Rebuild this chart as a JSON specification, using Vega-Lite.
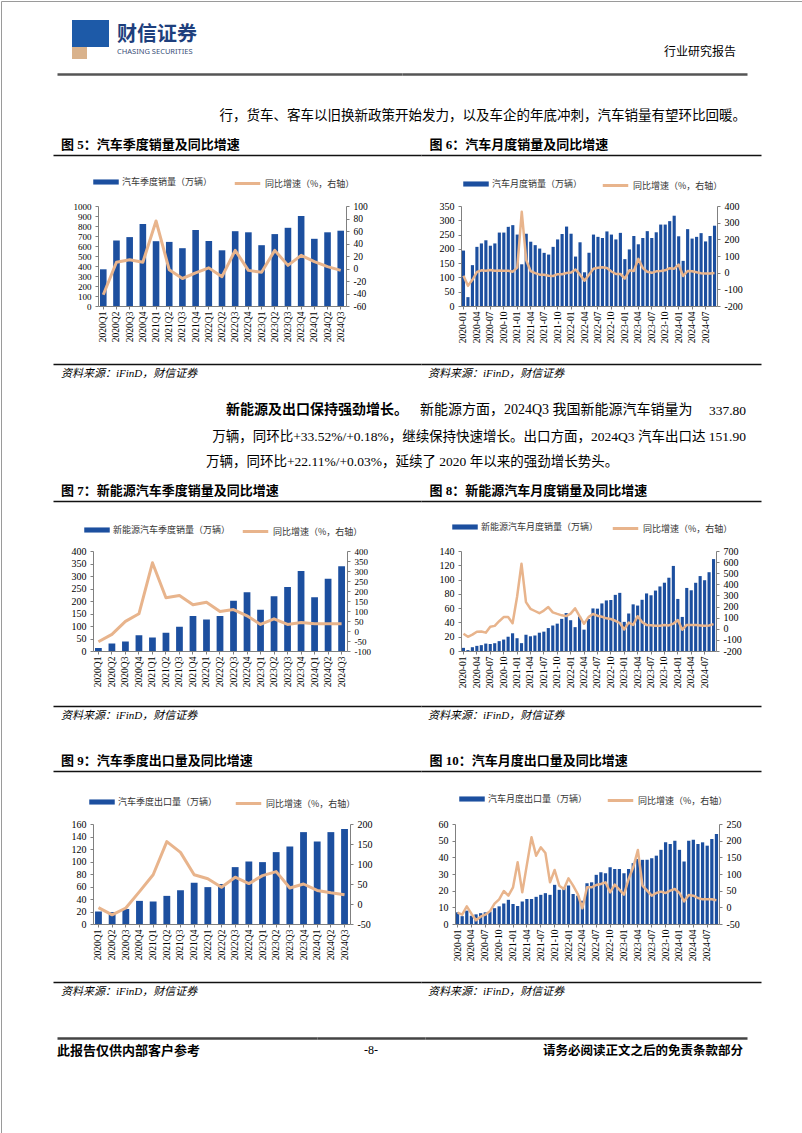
{
"$schema":"https://vega.github.io/schema/vega-lite/v6.json",
"background":"#ffffff",
"padding":0,
"bounds":"flush",
"spacing":0,
"resolve":{"scale":{"fill":"independent","stroke":"independent"},"legend":{"fill":"independent","stroke":"independent"}},
"config":{
 "view":{"stroke":null},
 "concat":{"spacing":0},
 "axis":{"grid":false,"labelFont":"Liberation Serif","labelColor":"#000000","domainColor":"#808080","tickColor":"#808080"},
 "axisX":{"labelAngle":270,"labelFontSize":9.5,"tickSize":3,"labelPadding":2},
 "axisY":{"labelFontSize":10,"tickSize":3,"labelPadding":4,"labelOverlap":false},
 "legend":{"orient":"none","symbolSize":650,"labelFont":"Noto Sans CJK SC","labelFontSize":9,"labelColor":"#333333","labelOffset":3,"padding":0},
 "title":{"font":"Liberation Serif, Noto Sans CJK SC","color":"#000000","frame":"group","fontWeight":"normal","anchor":"start","offset":0}
},
"datasets":{
 "q5":[{"period":"2020Q1","sales":367,"yoy":-42},{"period":"2020Q2","sales":655,"yoy":10},{"period":"2020Q3","sales":689,"yoy":14},{"period":"2020Q4","sales":820,"yoy":10},{"period":"2021Q1","sales":648,"yoy":76},{"period":"2021Q2","sales":641,"yoy":-2},{"period":"2021Q3","sales":578,"yoy":-16},{"period":"2021Q4","sales":760,"yoy":-7},{"period":"2022Q1","sales":650,"yoy":1},{"period":"2022Q2","sales":557,"yoy":-13},{"period":"2022Q3","sales":748,"yoy":29},{"period":"2022Q4","sales":737,"yoy":-3},{"period":"2023Q1","sales":608,"yoy":-6},{"period":"2023Q2","sales":719,"yoy":29},{"period":"2023Q3","sales":782,"yoy":5},{"period":"2023Q4","sales":900,"yoy":21},{"period":"2024Q1","sales":672,"yoy":11},{"period":"2024Q2","sales":737,"yoy":3},{"period":"2024Q3","sales":753,"yoy":-3}],
 "q7":[{"period":"2020Q1","sales":12,"yoy":-54},{"period":"2020Q2","sales":30,"yoy":-17},{"period":"2020Q3","sales":38,"yoy":48},{"period":"2020Q4","sales":63,"yoy":86},{"period":"2021Q1","sales":54,"yoy":341},{"period":"2021Q2","sales":73,"yoy":166},{"period":"2021Q3","sales":97,"yoy":178},{"period":"2021Q4","sales":140,"yoy":131},{"period":"2022Q1","sales":126,"yoy":144},{"period":"2022Q2","sales":140,"yoy":97},{"period":"2022Q3","sales":201,"yoy":107},{"period":"2022Q4","sales":235,"yoy":76},{"period":"2023Q1","sales":165,"yoy":33},{"period":"2023Q2","sales":219,"yoy":61},{"period":"2023Q3","sales":256,"yoy":33},{"period":"2023Q4","sales":320,"yoy":42},{"period":"2024Q1","sales":215,"yoy":36},{"period":"2024Q2","sales":289,"yoy":36},{"period":"2024Q3","sales":339,"yoy":36}],
 "q9":[{"period":"2020Q1","sales":20,"yoy":-9},{"period":"2020Q2","sales":19,"yoy":-27},{"period":"2020Q3","sales":24,"yoy":-10},{"period":"2020Q4","sales":37,"yoy":31},{"period":"2021Q1","sales":36,"yoy":73},{"period":"2021Q2","sales":45,"yoy":156},{"period":"2021Q3","sales":54,"yoy":129},{"period":"2021Q4","sales":66,"yoy":73},{"period":"2022Q1","sales":59,"yoy":63},{"period":"2022Q2","sales":64,"yoy":42},{"period":"2022Q3","sales":91,"yoy":67},{"period":"2022Q4","sales":100,"yoy":51},{"period":"2023Q1","sales":99,"yoy":71},{"period":"2023Q2","sales":115,"yoy":81},{"period":"2023Q3","sales":124,"yoy":40},{"period":"2023Q4","sales":147,"yoy":50},{"period":"2024Q1","sales":132,"yoy":34},{"period":"2024Q2","sales":147,"yoy":28},{"period":"2024Q3","sales":152,"yoy":23}],
 "m6":[{"period":"2020-01","sales":194,"yoy":-18},{"period":"2020-02","sales":31,"yoy":-79},{"period":"2020-03","sales":143,"yoy":-43},{"period":"2020-04","sales":207,"yoy":4},{"period":"2020-05","sales":219,"yoy":14},{"period":"2020-06","sales":230,"yoy":12},{"period":"2020-07","sales":211,"yoy":16},{"period":"2020-08","sales":219,"yoy":12},{"period":"2020-09","sales":257,"yoy":13},{"period":"2020-10","sales":257,"yoy":12},{"period":"2020-11","sales":277,"yoy":11},{"period":"2020-12","sales":283,"yoy":6},
  {"period":"2021-01","sales":250,"yoy":30},{"period":"2021-02","sales":146,"yoy":365},{"period":"2021-03","sales":253,"yoy":75},{"period":"2021-04","sales":225,"yoy":9},{"period":"2021-05","sales":213,"yoy":-3},{"period":"2021-06","sales":201,"yoy":-12},{"period":"2021-07","sales":186,"yoy":-12},{"period":"2021-08","sales":180,"yoy":-18},{"period":"2021-09","sales":207,"yoy":-20},{"period":"2021-10","sales":233,"yoy":-9},{"period":"2021-11","sales":252,"yoy":-9},{"period":"2021-12","sales":278,"yoy":-2},
  {"period":"2022-01","sales":253,"yoy":1},{"period":"2022-02","sales":173,"yoy":19},{"period":"2022-03","sales":223,"yoy":-12},{"period":"2022-04","sales":118,"yoy":-48},{"period":"2022-05","sales":186,"yoy":-13},{"period":"2022-06","sales":250,"yoy":24},{"period":"2022-07","sales":242,"yoy":30},{"period":"2022-08","sales":238,"yoy":32},{"period":"2022-09","sales":261,"yoy":28},{"period":"2022-10","sales":250,"yoy":7},{"period":"2022-11","sales":233,"yoy":-8},{"period":"2022-12","sales":256,"yoy":-8},
  {"period":"2023-01","sales":164,"yoy":-35},{"period":"2023-02","sales":198,"yoy":14},{"period":"2023-03","sales":245,"yoy":10},{"period":"2023-04","sales":216,"yoy":83},{"period":"2023-05","sales":238,"yoy":28},{"period":"2023-06","sales":262,"yoy":5},{"period":"2023-07","sales":238,"yoy":-1},{"period":"2023-08","sales":258,"yoy":8},{"period":"2023-09","sales":285,"yoy":10},{"period":"2023-10","sales":285,"yoy":14},{"period":"2023-11","sales":297,"yoy":27},{"period":"2023-12","sales":316,"yoy":24},
  {"period":"2024-01","sales":244,"yoy":48},{"period":"2024-02","sales":158,"yoy":-20},{"period":"2024-03","sales":269,"yoy":10},{"period":"2024-04","sales":236,"yoy":9},{"period":"2024-05","sales":242,"yoy":2},{"period":"2024-06","sales":255,"yoy":-3},{"period":"2024-07","sales":226,"yoy":-5},{"period":"2024-08","sales":245,"yoy":-5},{"period":"2024-09","sales":281,"yoy":-2}],
 "m8":[{"period":"2020-01","sales":4.4,"yoy":-45},{"period":"2020-02","sales":1.3,"yoy":-72},{"period":"2020-03","sales":5.3,"yoy":-53},{"period":"2020-04","sales":7.2,"yoy":-27},{"period":"2020-05","sales":8.2,"yoy":-24},{"period":"2020-06","sales":10.4,"yoy":-35},{"period":"2020-07","sales":9.8,"yoy":19},{"period":"2020-08","sales":10.9,"yoy":26},{"period":"2020-09","sales":13.8,"yoy":68},{"period":"2020-10","sales":16.0,"yoy":105},{"period":"2020-11","sales":20.0,"yoy":105},{"period":"2020-12","sales":24.8,"yoy":50},
  {"period":"2021-01","sales":17.9,"yoy":286},{"period":"2021-02","sales":11.0,"yoy":585},{"period":"2021-03","sales":22.6,"yoy":240},{"period":"2021-04","sales":20.6,"yoy":180},{"period":"2021-05","sales":21.7,"yoy":160},{"period":"2021-06","sales":25.6,"yoy":140},{"period":"2021-07","sales":27.1,"yoy":164},{"period":"2021-08","sales":32.1,"yoy":195},{"period":"2021-09","sales":35.7,"yoy":148},{"period":"2021-10","sales":38.3,"yoy":134},{"period":"2021-11","sales":45.0,"yoy":121},{"period":"2021-12","sales":53.1,"yoy":114},
  {"period":"2022-01","sales":43.1,"yoy":136},{"period":"2022-02","sales":33.4,"yoy":184},{"period":"2022-03","sales":48.4,"yoy":114},{"period":"2022-04","sales":29.9,"yoy":45},{"period":"2022-05","sales":44.7,"yoy":105},{"period":"2022-06","sales":59.6,"yoy":133},{"period":"2022-07","sales":59.3,"yoy":118},{"period":"2022-08","sales":66.6,"yoy":108},{"period":"2022-09","sales":70.8,"yoy":94},{"period":"2022-10","sales":71.4,"yoy":88},{"period":"2022-11","sales":78.6,"yoy":72},{"period":"2022-12","sales":81.4,"yoy":52},
  {"period":"2023-01","sales":40.8,"yoy":-6},{"period":"2023-02","sales":52.5,"yoy":56},{"period":"2023-03","sales":65.3,"yoy":35},{"period":"2023-04","sales":63.6,"yoy":113},{"period":"2023-05","sales":71.7,"yoy":60},{"period":"2023-06","sales":80.6,"yoy":35},{"period":"2023-07","sales":78.0,"yoy":32},{"period":"2023-08","sales":84.6,"yoy":27},{"period":"2023-09","sales":90.4,"yoy":28},{"period":"2023-10","sales":95.6,"yoy":34},{"period":"2023-11","sales":102.6,"yoy":30},{"period":"2023-12","sales":119.1,"yoy":46},
  {"period":"2024-01","sales":72.9,"yoy":79},{"period":"2024-02","sales":47.7,"yoy":-9},{"period":"2024-03","sales":88.3,"yoy":35},{"period":"2024-04","sales":85.0,"yoy":34},{"period":"2024-05","sales":95.5,"yoy":33},{"period":"2024-06","sales":104.9,"yoy":30},{"period":"2024-07","sales":99.1,"yoy":27},{"period":"2024-08","sales":110.3,"yoy":30},{"period":"2024-09","sales":128.7,"yoy":42}],
 "m10":[{"period":"2020-01","sales":7.0,"yoy":-16},{"period":"2020-02","sales":4.7,"yoy":-22},{"period":"2020-03","sales":8.0,"yoy":3},{"period":"2020-04","sales":5.0,"yoy":-19},{"period":"2020-05","sales":5.8,"yoy":-39},{"period":"2020-06","sales":6.5,"yoy":-28},{"period":"2020-07","sales":7.0,"yoy":-22},{"period":"2020-08","sales":7.5,"yoy":-12},{"period":"2020-09","sales":9.5,"yoy":11},{"period":"2020-10","sales":10.6,"yoy":24},{"period":"2020-11","sales":12.3,"yoy":49},{"period":"2020-12","sales":14.5,"yoy":35},
  {"period":"2021-01","sales":12.0,"yoy":60},{"period":"2021-02","sales":10.8,"yoy":135},{"period":"2021-03","sales":13.5,"yoy":45},{"period":"2021-04","sales":15.0,"yoy":128},{"period":"2021-05","sales":15.0,"yoy":210},{"period":"2021-06","sales":16.3,"yoy":155},{"period":"2021-07","sales":17.5,"yoy":180},{"period":"2021-08","sales":18.5,"yoy":163},{"period":"2021-09","sales":17.5,"yoy":75},{"period":"2021-10","sales":23.5,"yoy":112},{"period":"2021-11","sales":20.5,"yoy":65},{"period":"2021-12","sales":21.5,"yoy":55},
  {"period":"2022-01","sales":23.1,"yoy":87},{"period":"2022-02","sales":18.0,"yoy":65},{"period":"2022-03","sales":17.0,"yoy":40},{"period":"2022-04","sales":14.0,"yoy":-3},{"period":"2022-05","sales":24.5,"yoy":60},{"period":"2022-06","sales":25.0,"yoy":60},{"period":"2022-07","sales":29.5,"yoy":67},{"period":"2022-08","sales":31.0,"yoy":70},{"period":"2022-09","sales":30.5,"yoy":75},{"period":"2022-10","sales":34.0,"yoy":45},{"period":"2022-11","sales":33.0,"yoy":68},{"period":"2022-12","sales":33.0,"yoy":53},
  {"period":"2023-01","sales":30.5,"yoy":38},{"period":"2023-02","sales":33.0,"yoy":85},{"period":"2023-03","sales":36.5,"yoy":120},{"period":"2023-04","sales":39.0,"yoy":172},{"period":"2023-05","sales":38.5,"yoy":65},{"period":"2023-06","sales":38.5,"yoy":50},{"period":"2023-07","sales":39.5,"yoy":35},{"period":"2023-08","sales":41.0,"yoy":43},{"period":"2023-09","sales":44.5,"yoy":47},{"period":"2023-10","sales":49.0,"yoy":43},{"period":"2023-11","sales":48.0,"yoy":50},{"period":"2023-12","sales":50.0,"yoy":55},
  {"period":"2024-01","sales":44.5,"yoy":43},{"period":"2024-02","sales":37.5,"yoy":18},{"period":"2024-03","sales":50.0,"yoy":37},{"period":"2024-04","sales":50.5,"yoy":35},{"period":"2024-05","sales":48.0,"yoy":28},{"period":"2024-06","sales":49.0,"yoy":24},{"period":"2024-07","sales":47.0,"yoy":24},{"period":"2024-08","sales":51.0,"yoy":24},{"period":"2024-09","sales":54.0,"yoy":21}]
},
"vconcat":[
 {"hconcat":[
  {"width":801,"height":1132,"data":{"values":[]},"mark":"point","view":{"stroke":"#9a9a9a","strokeWidth":1}}
 ],"spacing":0,"bounds":"flush"},
 {"width":802,"height":19,"data":{"values":[]},"mark":"point"},
 {"hconcat":[
  {"width":71,"height":27,"data":{"values":[]},"mark":"point"},
  {"width":37,"height":27,"data":{"values":[]},"mark":"point","view":{"fill":"#1d5aa8","stroke":null}}
 ],"spacing":0,"bounds":"flush"},
 {"width":10,"height":27,"data":{"values":[]},"mark":"point"},
 {"hconcat":[
  {"width":71,"height":12,"data":{"values":[]},"mark":"point"},
  {"width":15,"height":12,"data":{"values":[]},"mark":"point","view":{"fill":"#d9b28c","stroke":null}}
 ],"spacing":0,"bounds":"flush"},
 {"width":10,"height":27,"data":{"values":[]},"mark":"point"},
 {"hconcat":[
  {"width":56,"height":10,"data":{"values":[]},"mark":"point"},
  {"width":345,"height":10,"data":{"values":[]},"mark":"point","encoding":{"x":{"field":"u","type":"quantitative","scale":{"domain":[0,1]},"axis":{"orient":"top","domainColor":"#555555","domainWidth":2.5,"ticks":false,"labels":false,"title":null}}},
   "title":{"text":"财信证券","subtitle":"CHASING SECURITIES","anchor":"start","dx":60,"offset":19,"font":"Noto Sans CJK SC","fontSize":20,"fontWeight":"bold","color":"#1e3f7d","subtitleFont":"Noto Sans","subtitleFontSize":7.5,"subtitleColor":"#3a4f78","subtitlePadding":3}},
  {"width":345,"height":10,"data":{"values":[]},"mark":"point","encoding":{"x":{"field":"u","type":"quantitative","scale":{"domain":[0,1]},"axis":{"orient":"top","domainColor":"#555555","domainWidth":2.5,"ticks":false,"labels":false,"title":null}}},
   "title":{"text":"行业研究报告","anchor":"end","dx":-11,"offset":15,"fontSize":12}}
 ],"spacing":0,"bounds":"flush"},
 {"width":10,"height":48,"data":{"values":[]},"mark":"point"},
 {"width":745,"height":33,"data":{"values":[]},"mark":"point","title":{"text":"行，货车、客车以旧换新政策开始发力，以及车企的年底冲刺，汽车销量有望环比回暖。","anchor":"end","offset":0,"fontSize":13.5}},
 {"hconcat":[
  {"width":52,"height":10,"data":{"values":[]},"mark":"point"},
  {"width":368,"height":10,"data":{"values":[]},"mark":"point","encoding":{"x":{"field":"u","type":"quantitative","scale":{"domain":[0,1]},"axis":{"orient":"top","domainColor":"#111111","domainWidth":1.3,"ticks":false,"labels":false,"title":null}}},
   "title":{"text":"图 5：汽车季度销量及同比增速","anchor":"start","dx":8,"offset":3,"fontSize":13,"fontWeight":"bold"}},
  {"width":340,"height":10,"data":{"values":[]},"mark":"point","encoding":{"x":{"field":"u","type":"quantitative","scale":{"domain":[0,1]},"axis":{"orient":"top","domainColor":"#111111","domainWidth":1.3,"ticks":false,"labels":false,"title":null}}},
   "title":{"text":"图 6：汽车月度销量及同比增速","anchor":"start","dx":8.6,"offset":3,"fontSize":13,"fontWeight":"bold"}}
 ],"spacing":0,"bounds":"flush"},
 {"width":10,"height":51,"data":{"values":[]},"mark":"point"},
 {"hconcat":[
  {"width":97,"height":100,"data":{"values":[]},"mark":"point"},
  {"width":248,"height":100,"data":{"name":"q5"},"layer":[
   {"mark":{"type":"bar"},"encoding":{
    "x":{"field":"period","type":"nominal","sort":null,"scale":{"paddingInner":0.5,"paddingOuter":0.15},"axis":{"title":null}},
    "y":{"field":"sales","type":"quantitative","scale":{"domain":[0,1000],"nice":false},"axis":{"orient":"left","values":[0,100,200,300,400,500,600,700,800,900,1000],"labelExpr":"datum.value + ''","labelFontSize":9,"title":null}},
    "fill":{"datum":"汽车季度销量（万辆）","type":"nominal","scale":{"range":["#1c4f9f"]},"legend":{"orient":"none","legendX":-5,"legendY":-37,"title":null,"symbolType":"M-1,-0.2H1V0.2H-1Z","symbolStrokeWidth":0}}}},
   {"mark":{"type":"line","strokeWidth":3,"strokeJoin":"round"},"encoding":{
    "x":{"field":"period","type":"nominal","sort":null},
    "y":{"field":"yoy","type":"quantitative","scale":{"domain":[-60,100],"nice":false},"axis":{"orient":"right","values":[-60,-40,-20,0,20,40,60,80,100],"labelExpr":"datum.value + ''","labelFontSize":9.5,"title":null}},
    "stroke":{"datum":"同比增速（%，右轴）","type":"nominal","scale":{"range":["#e8b48c"]},"legend":{"orient":"none","legendX":135,"legendY":-37,"title":null,"symbolType":"stroke","symbolStrokeWidth":3}}}}
  ],"resolve":{"scale":{"y":"independent"}}},
  {"width":115,"height":100,"data":{"values":[]},"mark":"point"},
  {"width":256,"height":100,"data":{"name":"m6"},"layer":[
   {"mark":{"type":"bar"},"encoding":{
    "x":{"field":"period","type":"nominal","sort":null,"scale":{"paddingInner":0.3,"paddingOuter":0.2},"axis":{"values":["2020-01","2020-04","2020-07","2020-10","2021-01","2021-04","2021-07","2021-10","2022-01","2022-04","2022-07","2022-10","2023-01","2023-04","2023-07","2023-10","2024-01","2024-04","2024-07"],"title":null}},
    "y":{"field":"sales","type":"quantitative","scale":{"domain":[0,350],"nice":false},"axis":{"orient":"left","values":[0,50,100,150,200,250,300,350],"labelExpr":"datum.value + ''","title":null}},
    "fill":{"datum":"汽车月度销量（万辆）","type":"nominal","scale":{"range":["#1c4f9f"]},"legend":{"orient":"none","legendX":2,"legendY":-35,"title":null,"symbolType":"M-1,-0.2H1V0.2H-1Z","symbolStrokeWidth":0}}}},
   {"mark":{"type":"line","strokeWidth":2.5,"strokeJoin":"round"},"encoding":{
    "x":{"field":"period","type":"nominal","sort":null},
    "y":{"field":"yoy","type":"quantitative","scale":{"domain":[-200,400],"nice":false},"axis":{"orient":"right","values":[-200,-100,0,100,200,300,400],"labelExpr":"datum.value + ''","title":null}},
    "stroke":{"datum":"同比增速（%，右轴）","type":"nominal","scale":{"range":["#e8b48c"]},"legend":{"orient":"none","legendX":140,"legendY":-35,"title":null,"symbolType":"stroke","symbolStrokeWidth":3}}}}
  ],"resolve":{"scale":{"y":"independent"}}}
 ],"spacing":0,"bounds":"flush","resolve":{"scale":{"fill":"independent","stroke":"independent"},"legend":{"fill":"independent","stroke":"independent"}}},
 {"width":10,"height":100,"data":{"values":[]},"mark":"point"},
 {"hconcat":[
  {"width":52,"height":58,"data":{"values":[]},"mark":"point"},
  {"width":368,"height":58,"data":{"values":[]},"mark":"point","encoding":{"x":{"field":"u","type":"quantitative","scale":{"domain":[0,1]},"axis":{"orient":"bottom","domainColor":"#111111","domainWidth":1.3,"ticks":false,"labels":false,"title":null}}},
   "title":{"text":"资料来源：iFinD，财信证券","orient":"bottom","anchor":"start","dx":8,"offset":4,"fontSize":11,"fontStyle":"italic"}},
  {"width":340,"height":58,"data":{"values":[]},"mark":"point","encoding":{"x":{"field":"u","type":"quantitative","scale":{"domain":[0,1]},"axis":{"orient":"bottom","domainColor":"#111111","domainWidth":1.3,"ticks":false,"labels":false,"title":null}}},
   "title":{"text":"资料来源：iFinD，财信证券","orient":"bottom","anchor":"start","dx":7,"offset":4,"fontSize":11,"fontStyle":"italic"}}
 ],"spacing":0,"bounds":"flush"},
 {"width":10,"height":111,"data":{"values":[]},"mark":"point"},
 {"hconcat":[
  {"width":415,"height":26,"data":{"values":[]},"mark":"point","title":{"text":"新能源及出口保持强劲增长。","anchor":"start","dx":225,"offset":0,"fontSize":14,"fontWeight":"bold"}},
  {"width":280,"height":26,"data":{"values":[]},"mark":"point","title":{"text":"新能源方面，2024Q3 我国新能源汽车销量为","anchor":"start","dx":4,"offset":0,"fontSize":14}},
  {"width":50,"height":26,"data":{"values":[]},"mark":"point","title":{"text":"337.80","anchor":"end","offset":0,"fontSize":13.5}}
 ],"spacing":0,"bounds":"flush"},
 {"width":10,"height":26,"data":{"values":[]},"mark":"point"},
 {"width":745,"height":25,"data":{"values":[]},"mark":"point","title":{"text":"万辆，同环比+33.52%/+0.18%，继续保持快速增长。出口方面，2024Q3 汽车出口达 151.90","anchor":"end","offset":0,"fontSize":13.5}},
 {"width":745,"height":33,"data":{"values":[]},"mark":"point","title":{"text":"万辆，同环比+22.11%/+0.03%，延续了 2020 年以来的强劲增长势头。","anchor":"start","dx":205,"offset":0,"fontSize":13.5}},
 {"hconcat":[
  {"width":52,"height":10,"data":{"values":[]},"mark":"point"},
  {"width":368,"height":10,"data":{"values":[]},"mark":"point","encoding":{"x":{"field":"u","type":"quantitative","scale":{"domain":[0,1]},"axis":{"orient":"top","domainColor":"#111111","domainWidth":1.3,"ticks":false,"labels":false,"title":null}}},
   "title":{"text":"图 7：新能源汽车季度销量及同比增速","anchor":"start","dx":8,"offset":3,"fontSize":13,"fontWeight":"bold"}},
  {"width":340,"height":10,"data":{"values":[]},"mark":"point","encoding":{"x":{"field":"u","type":"quantitative","scale":{"domain":[0,1]},"axis":{"orient":"top","domainColor":"#111111","domainWidth":1.3,"ticks":false,"labels":false,"title":null}}},
   "title":{"text":"图 8：新能源汽车月度销量及同比增速","anchor":"start","dx":8.6,"offset":3,"fontSize":13,"fontWeight":"bold"}}
 ],"spacing":0,"bounds":"flush"},
 {"width":10,"height":50,"data":{"values":[]},"mark":"point"},
 {"hconcat":[
  {"width":92,"height":100,"data":{"values":[]},"mark":"point"},
  {"width":254,"height":100,"data":{"name":"q7"},"layer":[
   {"mark":{"type":"bar"},"encoding":{
    "x":{"field":"period","type":"nominal","sort":null,"scale":{"paddingInner":0.5,"paddingOuter":0.15},"axis":{"title":null}},
    "y":{"field":"sales","type":"quantitative","scale":{"domain":[0,400],"nice":false},"axis":{"orient":"left","values":[0,50,100,150,200,250,300,350,400],"labelExpr":"datum.value + ''","title":null}},
    "fill":{"datum":"新能源汽车季度销量（万辆）","type":"nominal","scale":{"range":["#1c4f9f"]},"legend":{"orient":"none","legendX":-9,"legendY":-34,"title":null,"symbolType":"M-1,-0.2H1V0.2H-1Z","symbolStrokeWidth":0}}}},
   {"mark":{"type":"line","strokeWidth":3,"strokeJoin":"round"},"encoding":{
    "x":{"field":"period","type":"nominal","sort":null},
    "y":{"field":"yoy","type":"quantitative","scale":{"domain":[-100,400],"nice":false},"axis":{"orient":"right","values":[-100,-50,0,50,100,150,200,250,300,350,400],"labelExpr":"datum.value + ''","labelFontSize":9,"title":null}},
    "stroke":{"datum":"同比增速（%，右轴）","type":"nominal","scale":{"range":["#e8b48c"]},"legend":{"orient":"none","legendX":148,"legendY":-34,"title":null,"symbolType":"stroke","symbolStrokeWidth":3}}}}
  ],"resolve":{"scale":{"y":"independent"}}},
  {"width":114,"height":100,"data":{"values":[]},"mark":"point"},
  {"width":255,"height":100,"data":{"name":"m8"},"layer":[
   {"mark":{"type":"bar"},"encoding":{
    "x":{"field":"period","type":"nominal","sort":null,"scale":{"paddingInner":0.3,"paddingOuter":0.2},"axis":{"values":["2020-01","2020-04","2020-07","2020-10","2021-01","2021-04","2021-07","2021-10","2022-01","2022-04","2022-07","2022-10","2023-01","2023-04","2023-07","2023-10","2024-01","2024-04","2024-07"],"title":null}},
    "y":{"field":"sales","type":"quantitative","scale":{"domain":[0,140],"nice":false},"axis":{"orient":"left","values":[0,20,40,60,80,100,120,140],"labelExpr":"datum.value + ''","title":null}},
    "fill":{"datum":"新能源汽车月度销量（万辆）","type":"nominal","scale":{"range":["#1c4f9f"]},"legend":{"orient":"none","legendX":-9,"legendY":-37,"title":null,"symbolType":"M-1,-0.2H1V0.2H-1Z","symbolStrokeWidth":0}}}},
   {"mark":{"type":"line","strokeWidth":2.5,"strokeJoin":"round"},"encoding":{
    "x":{"field":"period","type":"nominal","sort":null},
    "y":{"field":"yoy","type":"quantitative","scale":{"domain":[-200,700],"nice":false},"axis":{"orient":"right","values":[-200,-100,0,100,200,300,400,500,600,700],"labelExpr":"datum.value + ''","title":null}},
    "stroke":{"datum":"同比增速（%，右轴）","type":"nominal","scale":{"range":["#e8b48c"]},"legend":{"orient":"none","legendX":150,"legendY":-37,"title":null,"symbolType":"stroke","symbolStrokeWidth":3}}}}
  ],"resolve":{"scale":{"y":"independent"}}}
 ],"spacing":0,"bounds":"flush","resolve":{"scale":{"fill":"independent","stroke":"independent"},"legend":{"fill":"independent","stroke":"independent"}}},
 {"width":10,"height":100,"data":{"values":[]},"mark":"point"},
 {"hconcat":[
  {"width":52,"height":55,"data":{"values":[]},"mark":"point"},
  {"width":368,"height":55,"data":{"values":[]},"mark":"point","encoding":{"x":{"field":"u","type":"quantitative","scale":{"domain":[0,1]},"axis":{"orient":"bottom","domainColor":"#111111","domainWidth":1.3,"ticks":false,"labels":false,"title":null}}},
   "title":{"text":"资料来源：iFinD，财信证券","orient":"bottom","anchor":"start","dx":8,"offset":4,"fontSize":11,"fontStyle":"italic"}},
  {"width":340,"height":55,"data":{"values":[]},"mark":"point","encoding":{"x":{"field":"u","type":"quantitative","scale":{"domain":[0,1]},"axis":{"orient":"bottom","domainColor":"#111111","domainWidth":1.3,"ticks":false,"labels":false,"title":null}}},
   "title":{"text":"资料来源：iFinD，财信证券","orient":"bottom","anchor":"start","dx":7,"offset":4,"fontSize":11,"fontStyle":"italic"}}
 ],"spacing":0,"bounds":"flush"},
 {"width":10,"height":120,"data":{"values":[]},"mark":"point"},
 {"hconcat":[
  {"width":52,"height":10,"data":{"values":[]},"mark":"point"},
  {"width":368,"height":10,"data":{"values":[]},"mark":"point","encoding":{"x":{"field":"u","type":"quantitative","scale":{"domain":[0,1]},"axis":{"orient":"top","domainColor":"#111111","domainWidth":1.3,"ticks":false,"labels":false,"title":null}}},
   "title":{"text":"图 9：汽车季度出口量及同比增速","anchor":"start","dx":8,"offset":3,"fontSize":13,"fontWeight":"bold"}},
  {"width":340,"height":10,"data":{"values":[]},"mark":"point","encoding":{"x":{"field":"u","type":"quantitative","scale":{"domain":[0,1]},"axis":{"orient":"top","domainColor":"#111111","domainWidth":1.3,"ticks":false,"labels":false,"title":null}}},
   "title":{"text":"图 10：汽车月度出口量及同比增速","anchor":"start","dx":8.6,"offset":3,"fontSize":13,"fontWeight":"bold"}}
 ],"spacing":0,"bounds":"flush"},
 {"width":10,"height":53,"data":{"values":[]},"mark":"point"},
 {"hconcat":[
  {"width":92,"height":100,"data":{"values":[]},"mark":"point"},
  {"width":257,"height":100,"data":{"name":"q9"},"layer":[
   {"mark":{"type":"bar"},"encoding":{
    "x":{"field":"period","type":"nominal","sort":null,"scale":{"paddingInner":0.5,"paddingOuter":0.15},"axis":{"title":null}},
    "y":{"field":"sales","type":"quantitative","scale":{"domain":[0,160],"nice":false},"axis":{"orient":"left","values":[0,20,40,60,80,100,120,140,160],"labelExpr":"datum.value + ''","title":null}},
    "fill":{"datum":"汽车季度出口量（万辆）","type":"nominal","scale":{"range":["#1c4f9f"]},"legend":{"orient":"none","legendX":-4,"legendY":-35,"title":null,"symbolType":"M-1,-0.2H1V0.2H-1Z","symbolStrokeWidth":0}}}},
   {"mark":{"type":"line","strokeWidth":3,"strokeJoin":"round"},"encoding":{
    "x":{"field":"period","type":"nominal","sort":null},
    "y":{"field":"yoy","type":"quantitative","scale":{"domain":[-50,200],"nice":false},"axis":{"orient":"right","values":[-50,0,50,100,150,200],"labelExpr":"datum.value + ''","title":null}},
    "stroke":{"datum":"同比增速（%，右轴）","type":"nominal","scale":{"range":["#e8b48c"]},"legend":{"orient":"none","legendX":141,"legendY":-35,"title":null,"symbolType":"stroke","symbolStrokeWidth":3}}}}
  ],"resolve":{"scale":{"y":"independent"}}},
  {"width":105,"height":100,"data":{"values":[]},"mark":"point"},
  {"width":264,"height":100,"data":{"name":"m10"},"layer":[
   {"mark":{"type":"bar"},"encoding":{
    "x":{"field":"period","type":"nominal","sort":null,"scale":{"paddingInner":0.3,"paddingOuter":0.2},"axis":{"values":["2020-01","2020-04","2020-07","2020-10","2021-01","2021-04","2021-07","2021-10","2022-01","2022-04","2022-07","2022-10","2023-01","2023-04","2023-07","2023-10","2024-01","2024-04","2024-07"],"title":null}},
    "y":{"field":"sales","type":"quantitative","scale":{"domain":[0,60],"nice":false},"axis":{"orient":"left","values":[0,10,20,30,40,50,60],"labelExpr":"datum.value + ''","title":null}},
    "fill":{"datum":"汽车月度出口量（万辆）","type":"nominal","scale":{"range":["#1c4f9f"]},"legend":{"orient":"none","legendX":4,"legendY":-38,"title":null,"symbolType":"M-1,-0.2H1V0.2H-1Z","symbolStrokeWidth":0}}}},
   {"mark":{"type":"line","strokeWidth":2.5,"strokeJoin":"round"},"encoding":{
    "x":{"field":"period","type":"nominal","sort":null},
    "y":{"field":"yoy","type":"quantitative","scale":{"domain":[-50,250],"nice":false},"axis":{"orient":"right","values":[-50,0,50,100,150,200,250],"labelExpr":"datum.value + ''","title":null}},
    "stroke":{"datum":"同比增速（%，右轴）","type":"nominal","scale":{"range":["#e8b48c"]},"legend":{"orient":"none","legendX":151,"legendY":-38,"title":null,"symbolType":"stroke","symbolStrokeWidth":3}}}}
  ],"resolve":{"scale":{"y":"independent"}}}
 ],"spacing":0,"bounds":"flush","resolve":{"scale":{"fill":"independent","stroke":"independent"},"legend":{"fill":"independent","stroke":"independent"}}},
 {"width":10,"height":100,"data":{"values":[]},"mark":"point"},
 {"hconcat":[
  {"width":52,"height":58,"data":{"values":[]},"mark":"point"},
  {"width":368,"height":58,"data":{"values":[]},"mark":"point","encoding":{"x":{"field":"u","type":"quantitative","scale":{"domain":[0,1]},"axis":{"orient":"bottom","domainColor":"#111111","domainWidth":1.3,"ticks":false,"labels":false,"title":null}}},
   "title":{"text":"资料来源：iFinD，财信证券","orient":"bottom","anchor":"start","dx":8,"offset":4,"fontSize":11,"fontStyle":"italic"}},
  {"width":340,"height":58,"data":{"values":[]},"mark":"point","encoding":{"x":{"field":"u","type":"quantitative","scale":{"domain":[0,1]},"axis":{"orient":"bottom","domainColor":"#111111","domainWidth":1.3,"ticks":false,"labels":false,"title":null}}},
   "title":{"text":"资料来源：iFinD，财信证券","orient":"bottom","anchor":"start","dx":7,"offset":4,"fontSize":11,"fontStyle":"italic"}}
 ],"spacing":0,"bounds":"flush"},
 {"width":10,"height":58,"data":{"values":[]},"mark":"point"},
 {"hconcat":[
  {"width":56,"height":56,"data":{"values":[]},"mark":"point"},
  {"width":260,"height":56,"data":{"values":[]},"mark":"point","encoding":{"x":{"field":"u","type":"quantitative","scale":{"domain":[0,1]},"axis":{"orient":"bottom","domainColor":"#444444","domainWidth":2.5,"ticks":false,"labels":false,"title":null}}},
   "title":{"text":"此报告仅供内部客户参考","orient":"bottom","anchor":"start","offset":7,"fontSize":13,"fontWeight":"bold"}},
  {"width":108,"height":56,"data":{"values":[]},"mark":"point","encoding":{"x":{"field":"u","type":"quantitative","scale":{"domain":[0,1]},"axis":{"orient":"bottom","domainColor":"#444444","domainWidth":2.5,"ticks":false,"labels":false,"title":null}}},
   "title":{"text":"-8-","orient":"bottom","anchor":"middle","offset":7,"fontSize":12}},
  {"width":322,"height":56,"data":{"values":[]},"mark":"point","encoding":{"x":{"field":"u","type":"quantitative","scale":{"domain":[0,1]},"axis":{"orient":"bottom","domainColor":"#444444","domainWidth":2.5,"ticks":false,"labels":false,"title":null}}},
   "title":{"text":"请务必阅读正文之后的免责条款部分","orient":"bottom","anchor":"end","dx":-4,"offset":7,"fontSize":12.5,"fontWeight":"bold"}}
 ],"spacing":0,"bounds":"flush"},
 {"width":10,"height":56,"data":{"values":[]},"mark":"point"},
 {"width":802,"height":96,"data":{"values":[]},"mark":"point"}
]
}
